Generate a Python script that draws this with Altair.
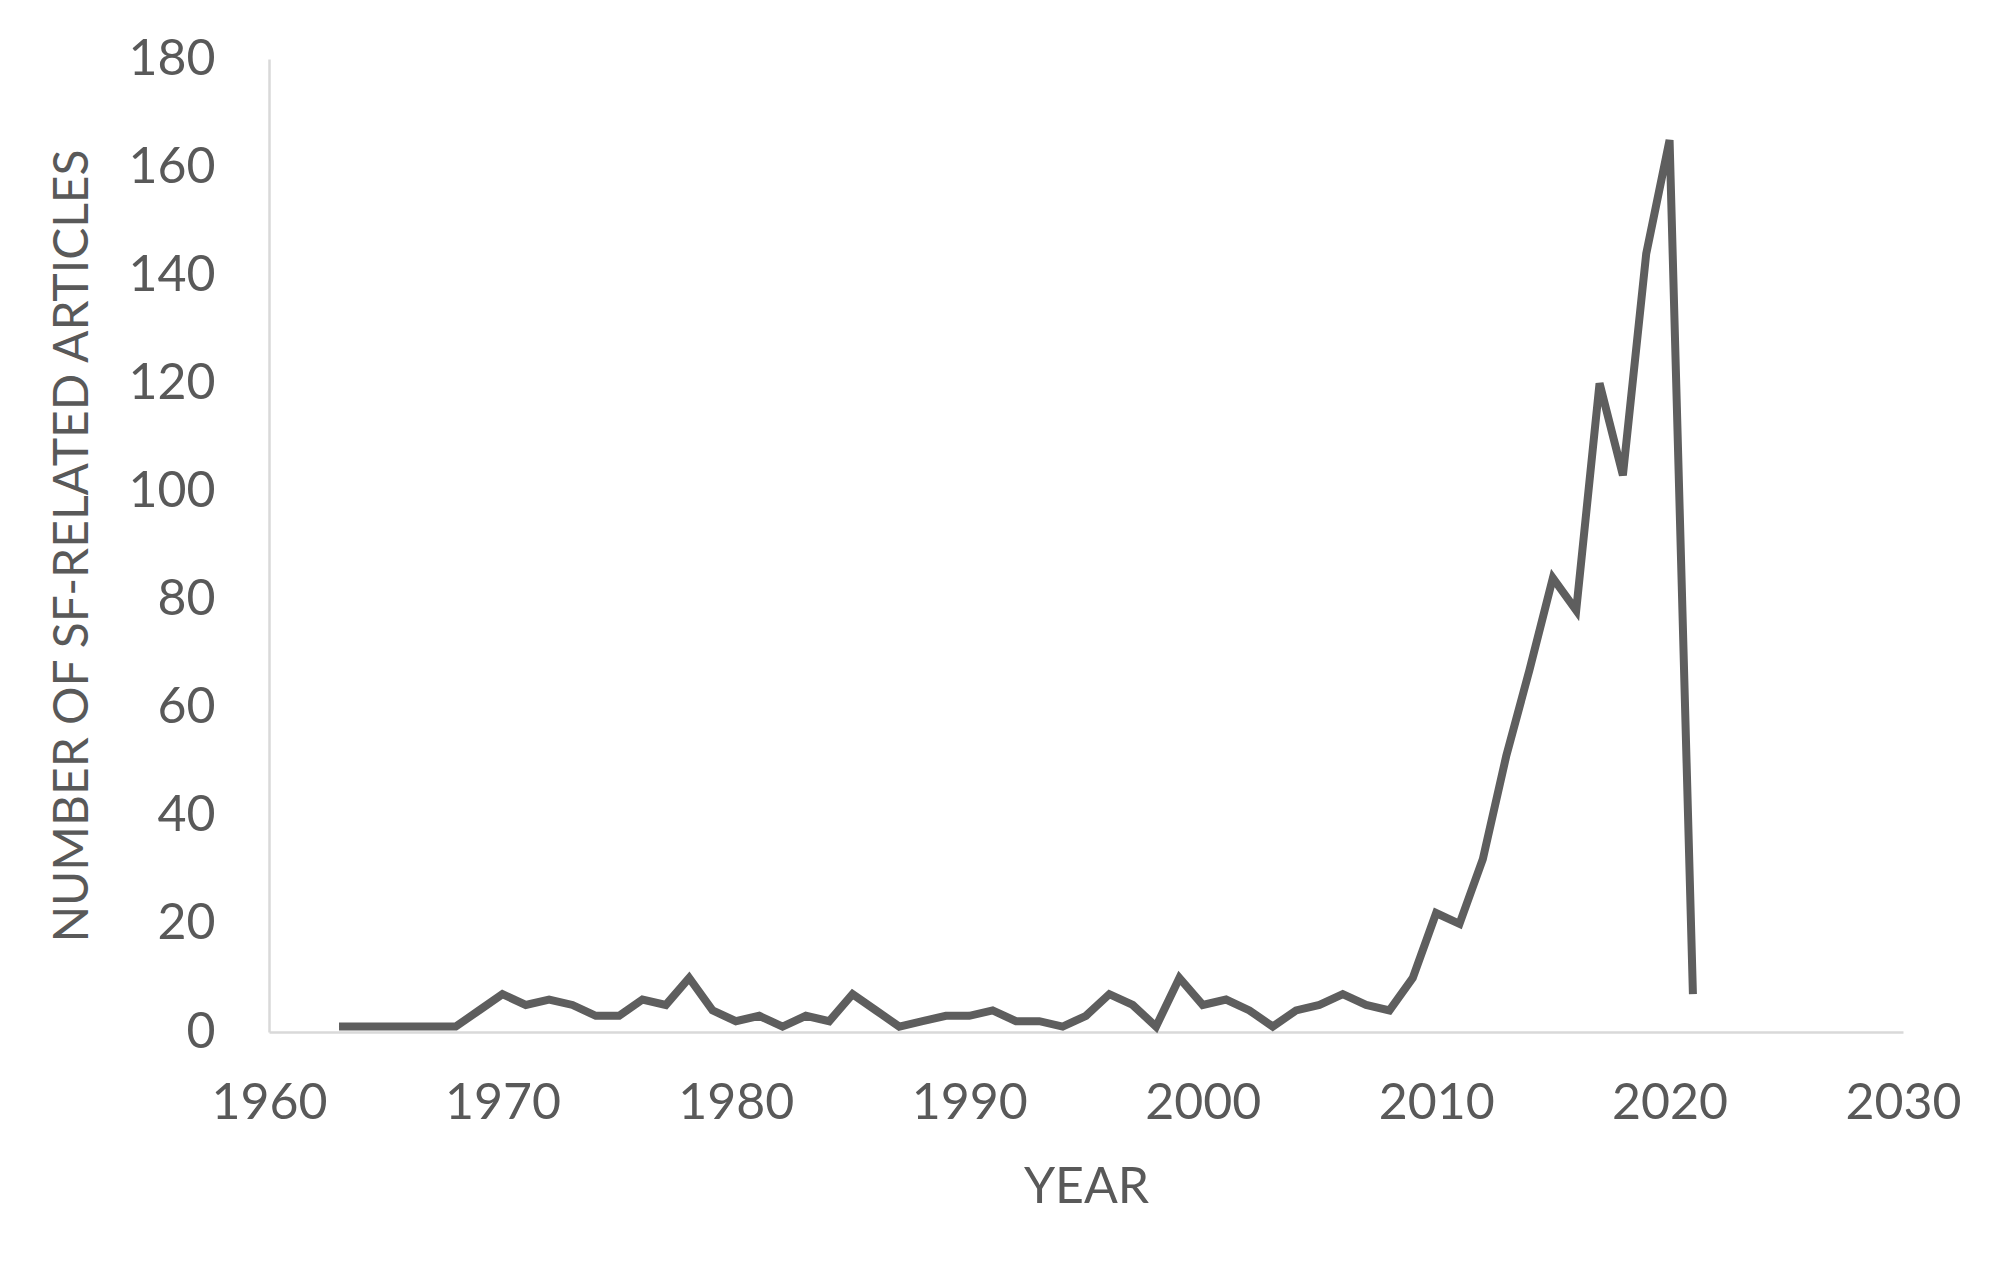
import altair as alt
import pandas as pd

years = list(range(1963, 2022))
counts = [1, 1, 1, 1, 1, 1, 4, 7, 5, 6, 5, 3, 3, 6, 5, 10, 4, 2, 3, 1,
          3, 2, 7, 4, 1, 2, 3, 3, 4, 2, 2, 1, 3, 7, 5, 1, 10, 5, 6, 4,
          1, 4, 5, 7, 5, 4, 10, 22, 20, 32, 51, 67, 84, 78, 120, 103, 144, 165, 7]

df = pd.DataFrame({"year": years, "count": counts})

TEXT = "#595959"
FONT = "Lato"

chart = alt.Chart(df).mark_line(color="#5e5e5e", strokeWidth=8, strokeJoin="miter").encode(
    x=alt.X("year:Q", scale=alt.Scale(domain=[1960, 2030], nice=False, zero=False),
            axis=alt.Axis(title="YEAR", values=list(range(1960, 2031, 10)), format="d",
                          grid=False, ticks=False, domainColor="#d9d9d9", domainWidth=2.5,
                          labelFont=FONT, labelFontSize=50, labelColor=TEXT, labelPadding=46,
                          titleFont=FONT, titleFontSize=50, titleColor=TEXT, titleFontWeight="normal",
                          titlePadding=34, labelFlush=False)),
    y=alt.Y("count:Q", scale=alt.Scale(domain=[0, 180], nice=False),
            axis=alt.Axis(title="NUMBER OF SF-RELATED ARTICLES", values=list(range(0, 181, 20)),
                          grid=False, ticks=False, domainColor="#d9d9d9", domainWidth=2.5,
                          labelFont=FONT, labelFontSize=50, labelColor=TEXT, labelPadding=54,
                          titleFont=FONT, titleFontSize=48, titleColor=TEXT, titleFontWeight="normal",
                          titlePadding=30)),
).properties(
    width=1634, height=973,
    autosize=alt.AutoSizeParams(type="none"),
    padding={"left": 261, "top": 51, "right": 96, "bottom": 230},
).configure_view(stroke=None)

chart.save("out.html", embed_options={"renderer": "svg", "actions": False})
